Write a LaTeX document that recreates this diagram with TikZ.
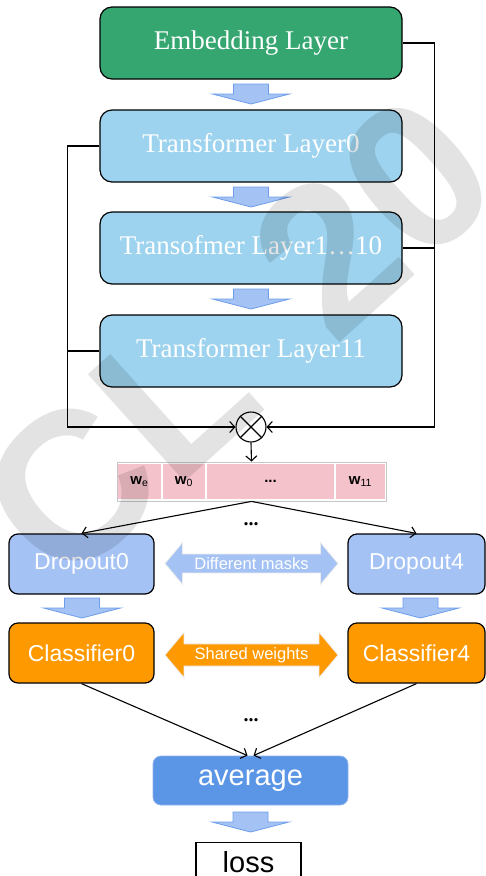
\documentclass[tikz,border=0pt]{standalone}
\usepackage{fontspec}
\setmainfont{Liberation Serif}
\setsansfont{Liberation Sans}
\usetikzlibrary{arrows.meta,
                shapes.arrows
            }

\definecolor{embgreen}{HTML}{36A671}
\definecolor{layerblue}{HTML}{9DD3EE}
\definecolor{dropblue}{HTML}{A4C2F4}
\definecolor{clsorange}{HTML}{FF9900}
\definecolor{avgblue}{HTML}{5B95E6}
\definecolor{avgedge}{HTML}{8DB3EC}
\definecolor{wpink}{HTML}{F4C2CB}
\definecolor{arrowedge}{HTML}{6D9EEB}

\tikzset{
    layer/.style={draw, line width=1.2pt, rounded corners=12pt, fill=layerblue,
                  minimum width=302pt, minimum height=72pt, text=white,
                  font=\fontsize{27}{30}\selectfont},
    sidebox/.style={draw, line width=1.2pt, rounded corners=9pt,
                    minimum width=145pt, minimum height=60pt, text=white,
                    font=\sffamily\fontsize{23}{26}\selectfont},
    wcell/.style={fill=wpink, inner sep=0pt, minimum height=35pt,
                  font=\sffamily\fontsize{15}{17}\selectfont},
    link/.style={line width=1.1pt, >={Straight Barb[length=5pt, width=11pt]}},
    bothways/.style={double arrow, double arrow head extend=11.5pt,
                     double arrow tip angle=100, inner ysep=3pt,
                     minimum height=173pt, draw=white!85!gray, line width=0.8pt,
                     text=white, font=\sffamily\fontsize{16.5}{18}\selectfont},
    blockdown/.pic={
        \draw[fill=dropblue, draw=arrowedge, line width=0.8pt]
            (-17.5,0) -- (17.5,0) -- (17.5,10) -- (38.5,10) -- (0,20)
            -- (-38.5,10) -- (-17.5,10) -- cycle;
    }
}

\begin{document}
\begin{tikzpicture}[x=1pt, y=-1pt]
            \useasboundingbox (0,0) rectangle (486,876);

            % encoder stack
            \node[layer, fill=embgreen] (emb) at (251,43) {Embedding Layer};
            \node[layer] (tl0) at (251,146) {Transformer Layer0};
            \node[layer] (tl1) at (251,248) {Transofmer Layer1…10};
            \node[layer] (tl11) at (251,351) {Transformer Layer11};
            \pic at (251,84) {blockdown};
            \pic at (251,187) {blockdown};
            \pic at (251,289) {blockdown};

            % weighted sum of the layer outputs
            \node[draw, circle, line width=1.1pt, minimum size=30pt, inner sep=0pt] (mul) at (251,427) {};
            \draw[line width=1.1pt] (mul.north west) -- (mul.south east)
                                    (mul.north east) -- (mul.south west);
            \draw[link, ->] (tl0.west) -- ++(-32,0) |- (mul.west);
            \draw[link] (tl11.west) -- ++(-32,0);
            \draw[link, ->] (emb.east) -- ++(32,0) |- (mul.east);
            \draw[link] (tl1.east) -- ++(32,0);

            \node[draw=gray!45, line width=0.8pt, minimum width=269pt, minimum height=39pt] (wrow) at (251.5,481.5) {};
            \node[wcell, minimum width=43pt] (we) at (139.5,481.5) {\textbf{w}\textsubscript{e}};
            \node[wcell, minimum width=42pt] (w0) at (184,481.5) {\textbf{w}\textsubscript{0}};
            \node[wcell, minimum width=127pt] (wdots) at (270.5,481.5) {\textbf{...}};
            \node[wcell, minimum width=49pt] (w11) at (360.5,481.5) {\textbf{w}\textsubscript{11}};
            \draw[link, ->] (mul.south) -- (wrow.north);

            % dropout branches
            \node[sidebox, fill=dropblue] (d0) at (81.5,564) {Dropout0};
            \node[sidebox, fill=dropblue, minimum width=137pt] (d4) at (416.5,564) {Dropout4};
            \node[font=\fontsize{20}{20}\selectfont\bfseries] (dots1) at (251,524) {...};
            \draw[link, ->] (wrow.south) -- (d0.north);
            \draw[link, ->] (wrow.south) -- (d4.north);
            \node[bothways, fill=dropblue] (masks) at (251.5,563.5) {Different masks};

            \pic at (82,598) {blockdown};
            \pic at (420.5,598) {blockdown};

            \node[sidebox, fill=clsorange] (c0) at (81.5,653) {Classifier0};
            \node[sidebox, fill=clsorange, minimum width=137pt] (c4) at (416.5,653) {Classifier4};
            \node[bothways, fill=clsorange] (shared) at (251.5,655) {Shared weights};

            % averaging and loss
            \node[draw=avgedge, line width=0.8pt, fill=avgblue, rounded corners=8pt,
                  minimum width=195pt, minimum height=49pt, text=white,
                  font=\sffamily\fontsize{29}{32}\selectfont] (avg) at (250.5,780.5) {average};
            \node[font=\fontsize{20}{20}\selectfont\bfseries] (dots2) at (251,720) {...};
            \draw[link, ->] (c0.south) -- ([xshift=-3pt]avg.north);
            \draw[link, ->] (c4.south) -- ([xshift=3pt]avg.north);
            \pic at (250.5,812) {blockdown};
            \node[draw, line width=1.1pt, anchor=north, minimum width=105pt, minimum height=40pt,
                  font=\sffamily\fontsize{29}{32}\selectfont] (loss) at (248.5,842) {loss};

            % watermark across the page
            \node[rotate=42, anchor=base west, inner sep=0pt, text=black, text opacity=0.11,
                  font=\sffamily\bfseries\fontsize{210}{210}\selectfont] (mark) at (62,593) {CL\hspace{87pt}20};
        \end{tikzpicture}
\end{document}
